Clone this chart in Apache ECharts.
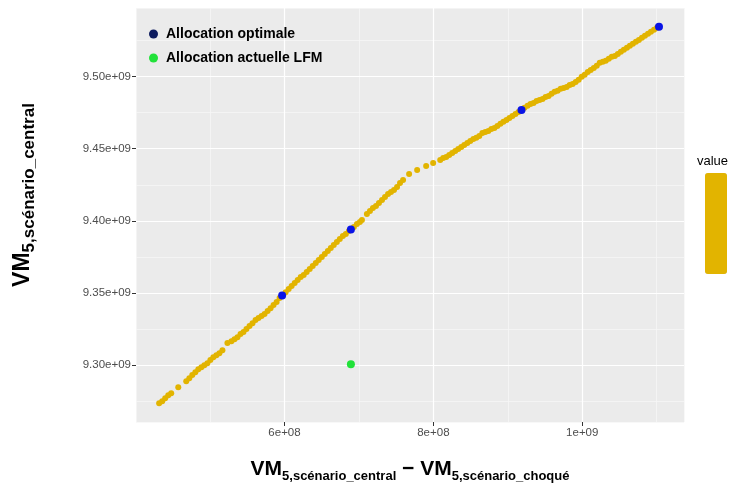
<!DOCTYPE html>
<html><head><meta charset="utf-8">
<script src="https://cdn.jsdelivr.net/npm/echarts@6/dist/echarts.min.js"></script>
<style>html,body{margin:0;padding:0;background:#fff}#c{width:734px;height:483px}</style>
</head><body><div id="c"></div>
<script>
// units: x values are in 1e8, y values in 1e9
const X_UNIT = 1e8, Y_UNIT = 1e9;

const frontierX = [4.316,4.357,4.397,4.438,4.478,4.573,4.680,4.721,4.761,4.802,4.842,4.883,4.923,4.964,5.004,5.044,5.085,5.125,5.166,5.233,5.287,5.328,5.368,5.409,5.449,5.489,5.530,5.570,5.611,5.651,5.692,5.732,5.773,5.813,5.853,5.894,5.934,5.968,6.015,6.056,6.096,6.137,6.177,6.218,6.258,6.298,6.339,6.379,6.420,6.460,6.501,6.541,6.582,6.622,6.662,6.703,6.743,6.784,6.824,6.865,6.892,6.932,6.973,7.013,7.040,7.107,7.148,7.188,7.229,7.269,7.310,7.350,7.391,7.431,7.471,7.512,7.552,7.593,7.674,7.782,7.903,7.997,8.092,8.132,8.173,8.213,8.253,8.294,8.334,8.375,8.415,8.456,8.496,8.537,8.577,8.617,8.658,8.698,8.739,8.779,8.820,8.860,8.901,8.941,8.982,9.022,9.062,9.103,9.143,9.184,9.224,9.265,9.305,9.346,9.386,9.427,9.467,9.507,9.548,9.588,9.629,9.669,9.710,9.750,9.791,9.831,9.871,9.912,9.952,9.993,10.033,10.074,10.114,10.155,10.195,10.235,10.276,10.316,10.357,10.397,10.438,10.478,10.519,10.559,10.600,10.640,10.680,10.721,10.761,10.802,10.842,10.883,10.923,10.964,11.004,11.031];
const frontierY = [9.2736,9.2750,9.2771,9.2792,9.2806,9.2847,9.2889,9.2910,9.2931,9.2951,9.2972,9.2986,9.3000,9.3014,9.3035,9.3055,9.3069,9.3083,9.3104,9.3153,9.3166,9.3180,9.3194,9.3215,9.3229,9.3250,9.3271,9.3291,9.3312,9.3326,9.3340,9.3354,9.3375,9.3395,9.3416,9.3437,9.3465,9.3482,9.3506,9.3527,9.3548,9.3569,9.3590,9.3610,9.3624,9.3645,9.3666,9.3687,9.3708,9.3728,9.3749,9.3770,9.3791,9.3812,9.3832,9.3853,9.3874,9.3895,9.3909,9.3930,9.3940,9.3957,9.3978,9.3992,9.4006,9.4047,9.4068,9.4089,9.4103,9.4124,9.4145,9.4165,9.4186,9.4200,9.4214,9.4235,9.4262,9.4283,9.4325,9.4353,9.4380,9.4401,9.4422,9.4436,9.4443,9.4457,9.4471,9.4484,9.4498,9.4512,9.4526,9.4540,9.4554,9.4568,9.4575,9.4588,9.4609,9.4616,9.4623,9.4637,9.4644,9.4658,9.4672,9.4686,9.4699,9.4713,9.4727,9.4741,9.4755,9.4769,9.4783,9.4797,9.4810,9.4817,9.4831,9.4838,9.4845,9.4859,9.4866,9.4880,9.4894,9.4901,9.4915,9.4921,9.4928,9.4942,9.4949,9.4963,9.4977,9.4998,9.5012,9.5032,9.5046,9.5060,9.5074,9.5095,9.5102,9.5109,9.5123,9.5137,9.5143,9.5157,9.5171,9.5185,9.5199,9.5213,9.5227,9.5241,9.5254,9.5268,9.5282,9.5296,9.5310,9.5324,9.5338,9.5345];

const optimalX = [5.968, 6.892, 9.184, 11.031];
const optimalY = [9.3482, 9.3940, 9.4769, 9.5345];
const currentX = [6.892];
const currentY = [9.3007];

const xTickValues = [6e8, 8e8, 1e9];
const yTickValues = [9.30e9, 9.35e9, 9.40e9, 9.45e9, 9.50e9];
const xRange = [4.005e8, 1.1367e9];
const yRange = [9.2606e9, 9.5475e9];
const xMajorStep = 2e8, xMinorStep = 1e8;
const yMajorStep = 0.05e9, yMinorStep = 0.025e9;

const seriesNames = ['frontière', 'Allocation optimale', 'Allocation actuelle LFM'];

const FONT = 'Liberation Sans, Arial, sans-serif';
const GOLD = '#e2b400';

function sci(v, d) {
  const e = Math.floor(Math.log10(Math.abs(v)) + 1e-9);
  const m = v / Math.pow(10, e);
  return m.toFixed(d) + 'e+' + String(e).padStart(2, '0');
}
function pairs(xs, ys) { return xs.map((x, i) => [x * X_UNIT, ys[i] * Y_UNIT]); }

const richX = {
  v: { fontFamily: FONT, fontSize: 21, fontWeight: 'bold', color: '#000', verticalAlign: 'top' },
  s: { fontFamily: FONT, fontSize: 13, fontWeight: 'bold', color: '#000', verticalAlign: 'top', padding: [11, 0, 0, 0] }
};
const richY = {
  v: { fontFamily: FONT, fontSize: 23, fontWeight: 'bold', color: '#000', verticalAlign: 'top' },
  s: { fontFamily: FONT, fontSize: 17, fontWeight: 'bold', color: '#000', verticalAlign: 'top', padding: [10, 0, 0, 0] }
};

const chart = echarts.init(document.getElementById('c'), null, { renderer: 'canvas' });
chart.setOption({
  backgroundColor: '#ffffff',
  animation: false,
  title: { text: 'value', left: 697, top: 155, padding: 0,
    textStyle: { fontFamily: FONT, fontSize: 13, fontWeight: 'normal', color: '#000' } },
  grid: { left: 136, right: 50, top: 8, bottom: 61, show: true, backgroundColor: '#EBEBEB', borderWidth: 0,
    containLabel: false, outerBoundsMode: 'none' },
  legend: {
    orient: 'vertical', left: 149, top: 27, padding: 0, itemGap: 10,
    itemWidth: 9, itemHeight: 9, icon: 'circle', selectedMode: false,
    textStyle: { fontFamily: FONT, fontSize: 14, fontWeight: 'bold', color: '#000', padding: [0, 0, 0, 3] },
    data: [
      { name: seriesNames[1], itemStyle: { color: '#0d1b5e' } },
      { name: seriesNames[2], itemStyle: { color: '#22e23a' } }
    ]
  },
  visualMap: {
    type: 'continuous', min: 9.2e9, max: 9.6e9, dimension: 1, seriesIndex: 0,
    inRange: { color: [GOLD, GOLD] }, left: 705, top: 173, padding: 0,
    itemWidth: 22, itemHeight: 101, calculable: false, hoverLink: false, text: null
  },
  xAxis: [
    { type: 'value', min: xRange[0], max: xRange[1], minInterval: xMajorStep, maxInterval: xMajorStep, z: 1,
      axisLine: { show: false },
      axisTick: { show: true, customValues: xTickValues, length: 4, lineStyle: { color: '#333', width: 1 } },
      axisLabel: { customValues: xTickValues, color: '#4d4d4d', fontFamily: FONT, fontSize: 11.5, margin: 5,
        formatter: v => sci(v, 0) },
      splitLine: { show: true, lineStyle: { color: '#ffffff', width: 1.2 } },
      name: '{v|VM}{s|5,scénario_central}{v| − VM}{s|5,scénario_choqué}',
      nameLocation: 'middle', nameGap: 37,
      nameTextStyle: { rich: richX }
    },
    { type: 'value', position: 'top', min: xRange[0], max: xRange[1], minInterval: xMinorStep, maxInterval: xMinorStep, z: 0,
      axisLine: { show: false }, axisTick: { show: false }, axisLabel: { show: false },
      splitLine: { show: true, lineStyle: { color: '#f6f6f6', width: 0.8 } }
    }
  ],
  yAxis: [
    { type: 'value', min: yRange[0], max: yRange[1], minInterval: yMajorStep, maxInterval: yMajorStep, z: 1,
      axisLine: { show: false },
      axisTick: { show: true, customValues: yTickValues, length: 4, lineStyle: { color: '#333', width: 1 } },
      axisLabel: { customValues: yTickValues, color: '#4d4d4d', fontFamily: FONT, fontSize: 11.5, margin: 5,
        formatter: v => sci(v, 2) },
      splitLine: { show: true, lineStyle: { color: '#ffffff', width: 1.2 } },
      name: '{v|VM}{s|5,scénario_central}',
      nameLocation: 'middle', nameGap: 98, nameRotate: 90,
      nameTextStyle: { rich: richY, padding: [0, 0, 0, 40] }
    },
    { type: 'value', position: 'right', min: yRange[0], max: yRange[1], minInterval: yMinorStep, maxInterval: yMinorStep, z: 0,
      axisLine: { show: false }, axisTick: { show: false }, axisLabel: { show: false },
      splitLine: { show: true, lineStyle: { color: '#f6f6f6', width: 0.8 } }
    }
  ],
  series: [
    { name: seriesNames[0], type: 'scatter', xAxisIndex: 0, yAxisIndex: 0, symbolSize: 6,
      itemStyle: { color: GOLD, opacity: 1 }, data: pairs(frontierX, frontierY), silent: true, z: 2 },
    { name: seriesNames[1], type: 'scatter', xAxisIndex: 0, yAxisIndex: 0, symbolSize: 8,
      itemStyle: { color: '#0a14e6', opacity: 1 }, data: pairs(optimalX, optimalY), silent: true, z: 3 },
    { name: seriesNames[2], type: 'scatter', xAxisIndex: 0, yAxisIndex: 0, symbolSize: 8,
      itemStyle: { color: '#22e23a', opacity: 1 }, data: pairs(currentX, currentY), silent: true, z: 3 }
  ]
});
</script></body></html>
